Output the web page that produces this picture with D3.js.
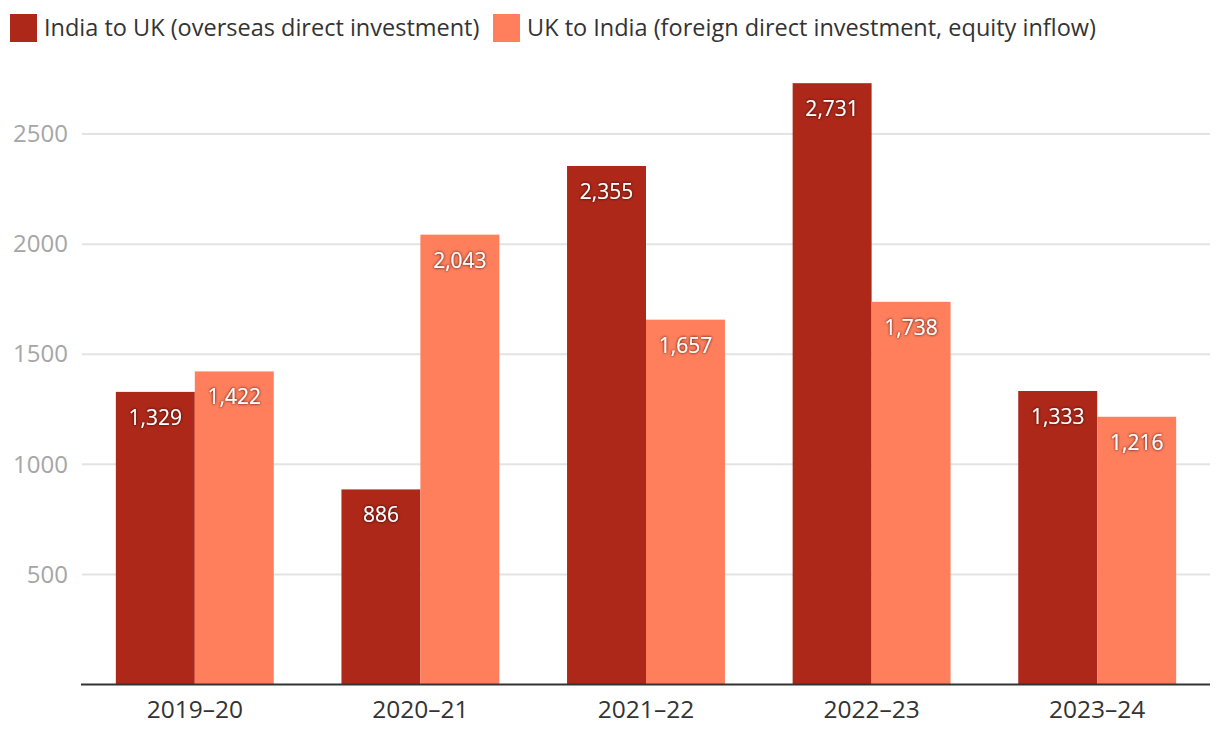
<!DOCTYPE html>
<html><head><meta charset="utf-8">
<script src="https://cdn.jsdelivr.net/npm/d3@7"></script>
<style>
body{margin:0;background:#fff;}
svg{display:block;font-family:"Open Sans",sans-serif;}
</style></head>
<body><svg id="c" width="1220" height="746"></svg>
<script>
const categories = ["2019-20","2020-21","2021-22","2022-23","2023-24"];
const seriesNames = ["India to UK (overseas direct investment)","UK to India (foreign direct investment, equity inflow)"];
const indiaToUK = [1329, 886, 2355, 2731, 1333];
const ukToIndia = [1422, 2043, 1657, 1738, 1216];
const yTicks = [500, 1000, 1500, 2000, 2500];
const colors = ["#ad2819", "#ff7f5c"];

(function(){
const svg = d3.select("#c");
const mLeft = 82, mRight = 1210, mTop = 79, mBottom = 684.5;

const x = d3.scaleBand().domain(categories).range([mLeft, mRight]).paddingInner(0.3).paddingOuter(0.15);
const x1 = d3.scaleBand().domain([0,1]).range([0, x.bandwidth()]);
const y = d3.scaleLinear().domain([0, 2750]).range([mBottom, mTop]);

svg.append("g").selectAll("line").data(yTicks).join("line")
  .attr("x1", mLeft).attr("x2", mRight)
  .attr("y1", d => y(d)).attr("y2", d => y(d))
  .attr("stroke", "#e3e3e3").attr("stroke-width", 2);

const yAxis = svg.append("g").attr("transform", `translate(${mLeft},0)`)
  .call(d3.axisLeft(y).tickValues(yTicks).tickSize(0).tickPadding(14).tickFormat(d3.format("d")));
yAxis.select(".domain").remove();
yAxis.selectAll("text").attr("fill", "#a6a6a6").attr("font-size", 24).attr("font-family", "Open Sans, sans-serif");

const data = categories.map((c, i) => ({c, v: [indiaToUK[i], ukToIndia[i]]}));

const defs = svg.append("defs");
const f = defs.append("filter").attr("id", "sh").attr("x", "-20%").attr("y", "-40%").attr("width", "140%").attr("height", "180%");
f.append("feDropShadow").attr("dx", 0).attr("dy", 0).attr("stdDeviation", 1.6).attr("flood-color", "#2a0602").attr("flood-opacity", 1);

const g = svg.append("g").selectAll("g").data(data).join("g")
  .attr("transform", d => `translate(${x(d.c)},0)`);
g.selectAll("rect").data(d => d.v.map((v, k) => ({v, k}))).join("rect")
  .attr("x", d => x1(d.k)).attr("width", x1.bandwidth())
  .attr("y", d => y(d.v)).attr("height", d => y(0) - y(d.v))
  .attr("fill", d => colors[d.k]);
g.selectAll("text").data(d => d.v.map((v, k) => ({v, k}))).join("text")
  .attr("x", d => x1(d.k) + x1.bandwidth()/2)
  .attr("y", d => y(d.v) + 25.5)
  .attr("dy", "0.35em")
  .attr("text-anchor", "middle")
  .attr("fill", "#fff").attr("font-size", 21)
  .attr("filter", "url(#sh)")
  .text(d => d3.format(",")(d.v));

const xAxis = svg.append("g").attr("transform", `translate(0,${mBottom})`)
  .call(d3.axisBottom(x).tickSize(0).tickPadding(16).tickFormat(d => d.replace("-", "\u2013")));
xAxis.select(".domain").attr("d", `M${mLeft-1},0H${mRight}`).attr("stroke", "#333").attr("stroke-width", 2);
xAxis.selectAll("text").attr("fill", "#333").attr("font-size", 24.5).attr("font-family", "Open Sans, sans-serif");

const leg = svg.append("g");
const legX = [10, 493];
seriesNames.forEach((s, i) => {
  leg.append("rect").attr("x", legX[i]).attr("y", 14).attr("width", 27).attr("height", 28).attr("fill", colors[i]);
  leg.append("text").attr("x", legX[i] + 34).attr("y", 28).attr("dy", "0.35em")
    .attr("fill", "#333").attr("font-size", 23.5).text(s);
});
})();
</script></body></html>
